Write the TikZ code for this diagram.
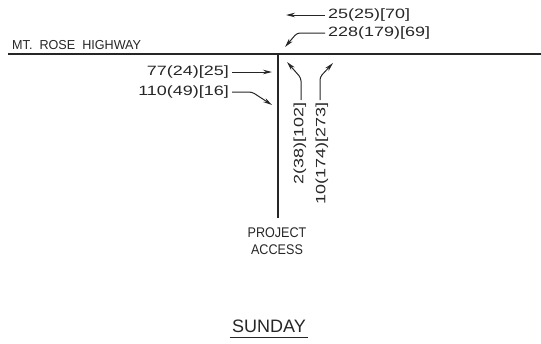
\documentclass[tikz,border=0pt]{standalone}
\usepackage{fontspec}
\setmainfont{Liberation Sans}
\newfontfamily\numfont[FakeStretch=1.33]{Liberation Sans}
\newfontfamily\lblfont[FakeStretch=0.97]{Liberation Sans}
\newfontfamily\accfont[FakeStretch=0.9]{Liberation Sans}
\usetikzlibrary{arrows.meta}
\begin{document}
\begin{tikzpicture}[x=1pt,y=-1pt,
  road/.style={line width=1.4pt,black!85},
  mv/.style={line width=1pt,black!85,-{Stealth[length=9pt,width=4.5pt]}},
  num/.style={inner sep=0pt,font=\numfont\fontsize{13.5}{15}\selectfont,text=black!85},
  lbl/.style={inner sep=0pt,font=\lblfont\fontsize{13}{15}\selectfont,text=black!85}]
\useasboundingbox (0,0) rectangle (541,343);
% roads
\coordinate (hwL) at (8,54);
\coordinate (hwR) at (541,54);
\coordinate (acT) at (278,55);
\coordinate (acB) at (278,218);
\draw[road] (hwL) -- (hwR);
\draw[road] (acT) -- (acB);
% road labels
\node[lbl,anchor=west] (hwy) at (12,45) {MT.\ \ ROSE\ \ HIGHWAY};
\node[inner sep=0pt,font=\accfont\fontsize{14}{15}\selectfont,text=black!85] (proj) at (277,233) {PROJECT};
\node[inner sep=0pt,font=\accfont\fontsize{14}{15}\selectfont,text=black!85] (acc) at (277,250) {ACCESS};
\node[inner sep=0pt,font=\fontsize{18}{20}\selectfont,text=black!85] (sun) at (269,326) {SUNDAY};
\coordinate (ulL) at (230,337);
\coordinate (ulR) at (308,337);
\draw[line width=1pt,black!85] (ulL) -- (ulR);
% eastbound (left approach)
\node[num,anchor=east] (ebt) at (229,72) {77(24)[25]};
\node[num,anchor=east] (ebr) at (229,92) {110(49)[16]};
\coordinate (ebtA) at (232,72);
\coordinate (ebtB) at (272,72);
\draw[mv] (ebtA) -- (ebtB);
\coordinate (ebrA) at (232,92);
\coordinate (ebrK) at (252,92);
\coordinate (ebrB) at (272,105);
\draw[mv,rounded corners=3pt] (ebrA) -- (ebrK) -- (ebrB);
% westbound (top)
\node[num,anchor=west] (wbt) at (328,15) {25(25)[70]};
\node[num,anchor=west] (wbl) at (328,33) {228(179)[69]};
\coordinate (wbtA) at (325,15);
\coordinate (wbtB) at (286,15);
\draw[mv] (wbtA) -- (wbtB);
\coordinate (wblA) at (325,33);
\coordinate (wblK) at (297,33);
\coordinate (wblB) at (285,47);
\draw[mv,rounded corners=3pt] (wblA) -- (wblK) -- (wblB);
% northbound (access)
\node[num,rotate=90,anchor=east] (nbl) at (300,102) {2(38)[102]};
\node[num,rotate=90,anchor=east] (nbr) at (322,102) {10(174)[273]};
\coordinate (nblA) at (301,100);
\coordinate (nblK) at (301,78);
\coordinate (nblB) at (287,62);
\draw[mv,rounded corners=3pt] (nblA) -- (nblK) -- (nblB);
\coordinate (nbrA) at (320,100);
\coordinate (nbrK) at (320,77);
\coordinate (nbrB) at (333,63);
\draw[mv,rounded corners=3pt] (nbrA) -- (nbrK) -- (nbrB);
\end{tikzpicture}
\end{document}
